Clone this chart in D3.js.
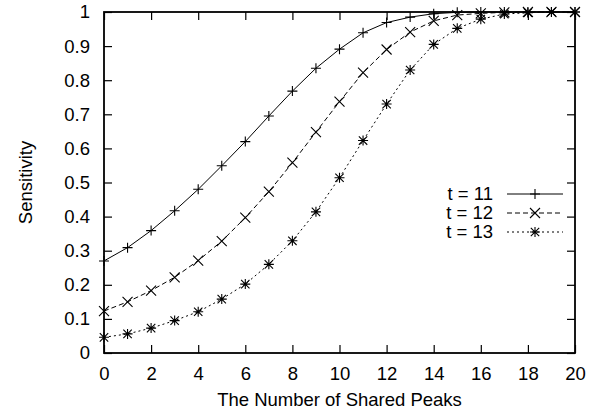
<!DOCTYPE html>
<html>
<head>
<meta charset="utf-8">
<script src="https://cdn.jsdelivr.net/npm/d3@7"></script>
<style>
  body { margin: 0; background: #fff; }
  text { font-family: "Liberation Sans", Arial, sans-serif; fill: #000; }
</style>
</head>
<body>
<div id="vis-container"></div>
<script>
// data
var peaks = [0,1,2,3,4,5,6,7,8,9,10,11,12,13,14,15,16,17,18,19,20];
var t11 = [0.27,0.309,0.359,0.417,0.48,0.549,0.62,0.695,0.768,0.835,0.891,0.939,0.969,0.985,0.995,0.999,1,1,1,1,1];
var t12 = [0.123,0.15,0.183,0.222,0.271,0.328,0.397,0.473,0.558,0.648,0.737,0.822,0.89,0.941,0.974,0.991,0.996,0.999,1,1,1];
var t13 = [0.046,0.056,0.073,0.095,0.121,0.158,0.202,0.26,0.329,0.414,0.514,0.623,0.73,0.83,0.905,0.952,0.979,0.994,0.998,1,1];
var seriesNames = ["t = 11", "t = 12", "t = 13"];
var xTicks = [0,2,4,6,8,10,12,14,16,18,20];
var yTicks = [0,0.1,0.2,0.3,0.4,0.5,0.6,0.7,0.8,0.9,1];

var margin = {top: 12, right: 27, bottom: 57, left: 104},
    width = 602 - margin.left - margin.right,
    height = 410 - margin.top - margin.bottom;
var fontSize = "18.5px";

var x = d3.scaleLinear().domain([0, 20]).range([0, width]);
var y = d3.scaleLinear().domain([0, 1]).range([height, 0]);

var svg = d3.select("#vis-container").append("svg")
    .attr("width", 602)
    .attr("height", 410);
var g = svg.append("g")
    .attr("transform", "translate(" + margin.left + "," + margin.top + ")");

// axes, gnuplot style: inward ticks on all four sides
var fmtY = function(d) { return d === 0 || d === 1 ? d : d.toFixed(1); };
var axBottom = g.append("g").attr("transform", "translate(0," + height + ")")
    .call(d3.axisBottom(x).tickValues(xTicks).tickSizeInner(-8).tickSizeOuter(0).tickPadding(14));
var axLeft = g.append("g")
    .call(d3.axisLeft(y).tickValues(yTicks).tickFormat(fmtY).tickSizeInner(-8).tickSizeOuter(0).tickPadding(14));
var axTop = g.append("g")
    .call(d3.axisTop(x).tickValues(xTicks).tickSizeInner(-8).tickSizeOuter(0).tickFormat(""));
var axRight = g.append("g").attr("transform", "translate(" + width + ",0)")
    .call(d3.axisRight(y).tickValues(yTicks).tickSizeInner(-8).tickSizeOuter(0).tickFormat(""));

[axBottom, axLeft, axTop, axRight].forEach(function(a) {
    a.attr("font-family", null).attr("font-size", null);
    a.select(".domain").remove();
    a.selectAll("line").attr("stroke", "#000").attr("stroke-width", 1.2);
    a.selectAll("text").style("font-size", fontSize).attr("fill", "#000");
});

g.append("rect")
    .attr("x", 0).attr("y", 0)
    .attr("width", width).attr("height", height)
    .attr("fill", "none").attr("stroke", "#000").attr("stroke-width", 1.8);

// axis titles
svg.append("text")
    .attr("x", margin.left + width / 2).attr("y", 406)
    .attr("text-anchor", "middle").style("font-size", fontSize)
    .text("The Number of Shared Peaks");
svg.append("text")
    .attr("transform", "translate(32," + (margin.top + height / 2) + ") rotate(-90)")
    .attr("text-anchor", "middle").style("font-size", fontSize)
    .text("Sensitivity");

// markers
var markPlus = function(s) { s = s || 5; return "M" + (-s) + ",0H" + s + "M0," + (-s) + "V" + s; };
var markCross = function(s) { s = s || 5; return "M" + (-s) + "," + (-s) + "L" + s + "," + s + "M" + (-s) + "," + s + "L" + s + "," + (-s); };
var markStar = function() { return markPlus(5) + markCross(4.2); };

var series = [
    {name: seriesNames[0], values: t11, dash: null, mark: markPlus},
    {name: seriesNames[1], values: t12, dash: "5,3", mark: markCross},
    {name: seriesNames[2], values: t13, dash: "2,3", mark: markStar}
];

var line = d3.line()
    .x(function(d, i) { return x(peaks[i]); })
    .y(function(d) { return y(d); });

series.forEach(function(s) {
    g.append("path")
        .datum(s.values)
        .attr("d", line)
        .attr("fill", "none")
        .attr("stroke", "#000")
        .attr("stroke-width", 1)
        .attr("stroke-dasharray", s.dash);
    g.selectAll(null)
        .data(s.values)
        .enter().append("path")
        .attr("transform", function(d, i) { return "translate(" + x(peaks[i]) + "," + y(d) + ")"; })
        .attr("d", s.mark())
        .attr("fill", "none")
        .attr("stroke", "#000")
        .attr("stroke-width", 1.1);
});

// legend
var legend = svg.append("g");
series.forEach(function(s, i) {
    var ly = 194 + i * 19;
    legend.append("text")
        .attr("x", 493).attr("y", ly)
        .attr("dy", "0.35em")
        .attr("text-anchor", "end")
        .style("font-size", fontSize)
        .text(s.name);
    legend.append("line")
        .attr("x1", 507).attr("x2", 563)
        .attr("y1", ly).attr("y2", ly)
        .attr("stroke", "#000").attr("stroke-width", 1)
        .attr("stroke-dasharray", s.dash);
    legend.append("path")
        .attr("transform", "translate(535," + ly + ")")
        .attr("d", s.mark())
        .attr("fill", "none").attr("stroke", "#000").attr("stroke-width", 1.1);
});
</script>
</body>
</html>
